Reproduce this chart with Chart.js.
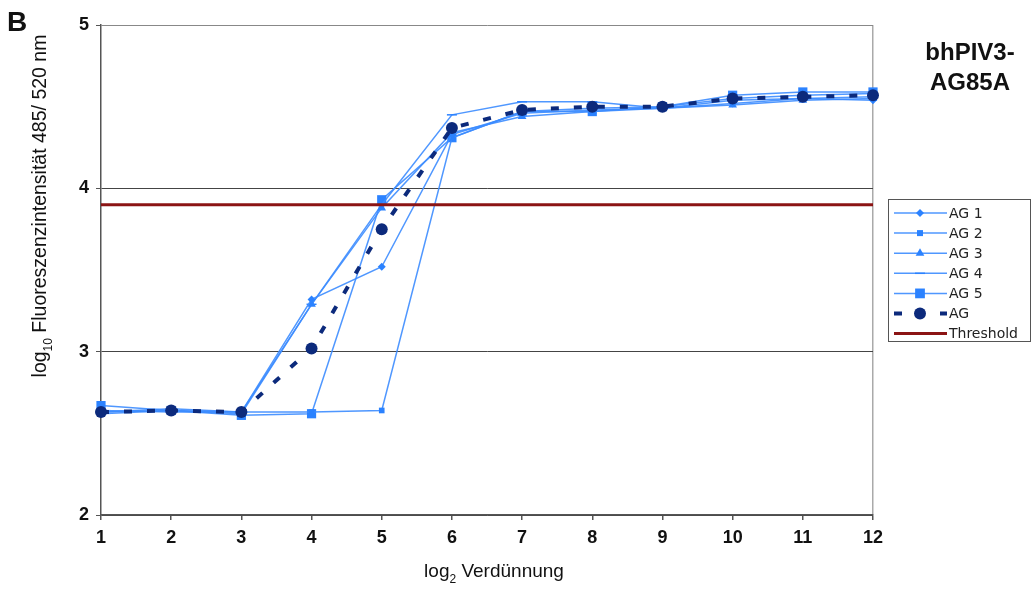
<!DOCTYPE html>
<html>
<head>
<meta charset="utf-8">
<script src="https://cdn.jsdelivr.net/npm/chart.js@4"></script>
<style>
  body { margin: 0; background: #fff; }
  #wrap { position: relative; width: 1032px; height: 589px; }
</style>
</head>
<body>
<div id="wrap"><canvas id="chart" width="1032" height="589"></canvas></div>
<script>
// dilution steps (log2) and log10 fluorescence readings
const dilutions = [1, 2, 3, 4, 5, 6, 7, 8, 9, 10, 11, 12];
const ag1 = [2.63, 2.64, 2.63, 3.32, 3.52, 4.33, 4.46, 4.48, 4.49, 4.52, 4.55, 4.54];
const ag2 = [2.64, 2.63, 2.63, 2.63, 2.64, 4.31, 4.47, 4.49, 4.50, 4.55, 4.57, 4.58];
const ag3 = [2.62, 2.64, 2.62, 3.29, 3.88, 4.34, 4.44, 4.47, 4.49, 4.51, 4.54, 4.55];
const ag4 = [2.63, 2.65, 2.63, 3.29, 3.90, 4.45, 4.53, 4.53, 4.49, 4.54, 4.55, 4.56];
const ag5 = [2.67, 2.64, 2.61, 2.62, 3.93, 4.31, 4.47, 4.47, 4.50, 4.57, 4.59, 4.59];
const agMean = [2.63, 2.64, 2.63, 3.02, 3.75, 4.37, 4.48, 4.50, 4.50, 4.55, 4.56, 4.57];
const threshold = 3.9;
const yTicks = [2, 3, 4, 5];

const lineBlue = 'rgba(60,140,255,0.9)';
const markBlue = '#2b82ff';
const navy = '#0c2a7c';
const darkRed = '#8b1414';

function pts(vals) {
  return vals.map((v, i) => ({ x: dilutions[i], y: v }));
}

function series(label, vals, style, radius) {
  return {
    label: label,
    data: pts(vals),
    borderColor: lineBlue,
    borderWidth: 1.5,
    pointStyle: style,
    pointRadius: radius,
    pointBackgroundColor: markBlue,
    pointBorderColor: markBlue,
    pointBorderWidth: style === 'line' ? 1.5 : 0,
    tension: 0,
    clip: 10,
    order: 2
  };
}

const datasets = [
  series('AG 1', ag1, 'rectRot', 4),
  series('AG 2', ag2, 'rect', 4),
  series('AG 3', ag3, 'triangle', 5),
  series('AG 4', ag4, 'line', 5),
  series('AG 5', ag5, 'rect', 6.5),
  {
    label: 'AG',
    data: pts(agMean),
    borderColor: navy,
    borderWidth: 4,
    borderDash: [8, 15],
    pointStyle: 'circle',
    pointRadius: 6,
    pointBorderWidth: 0,
    pointBackgroundColor: navy,
    pointBorderColor: navy,
    tension: 0,
    clip: 10,
    order: 0
  },
  {
    label: 'Threshold',
    data: [{ x: dilutions[0], y: threshold }, { x: dilutions[dilutions.length - 1], y: threshold }],
    borderColor: darkRed,
    borderWidth: 3,
    pointRadius: 0,
    order: 1
  }
];

// draw a legend marker by hand
function marker(ctx, style, r, x, y) {
  ctx.save();
  ctx.fillStyle = style === 'circle' ? navy : markBlue;
  ctx.strokeStyle = ctx.fillStyle;
  ctx.beginPath();
  if (style === 'rectRot') {
    ctx.moveTo(x, y - r); ctx.lineTo(x + r, y); ctx.lineTo(x, y + r); ctx.lineTo(x - r, y);
    ctx.closePath(); ctx.fill();
  } else if (style === 'rect') {
    ctx.fillRect(x - r * 0.75, y - r * 0.75, r * 1.5, r * 1.5);
  } else if (style === 'triangle') {
    ctx.moveTo(x, y - r); ctx.lineTo(x + r * 0.87, y + r * 0.5); ctx.lineTo(x - r * 0.87, y + r * 0.5);
    ctx.closePath(); ctx.fill();
  } else if (style === 'line') {
    ctx.lineWidth = 1.5;
    ctx.moveTo(x - r, y); ctx.lineTo(x + r, y); ctx.stroke();
  } else if (style === 'circle') {
    ctx.arc(x, y, r, 0, Math.PI * 2); ctx.fill();
  }
  ctx.restore();
}

// text with a subscript part: [normal, sub, rest]
function subText(ctx, parts, size, x, y, align) {
  const subSize = Math.round(size * 0.62);
  ctx.font = size + 'px "Liberation Sans", Arial, sans-serif';
  const w0 = ctx.measureText(parts[0]).width;
  const w2 = ctx.measureText(parts[2]).width;
  ctx.font = subSize + 'px "Liberation Sans", Arial, sans-serif';
  const w1 = ctx.measureText(parts[1]).width;
  const total = w0 + w1 + w2;
  let sx = align === 'center' ? x - total / 2 : x;
  ctx.textBaseline = 'alphabetic';
  ctx.textAlign = 'left';
  ctx.font = size + 'px "Liberation Sans", Arial, sans-serif';
  ctx.fillText(parts[0], sx, y);
  ctx.font = subSize + 'px "Liberation Sans", Arial, sans-serif';
  ctx.fillText(parts[1], sx + w0, y + size * 0.3);
  ctx.font = size + 'px "Liberation Sans", Arial, sans-serif';
  ctx.fillText(parts[2], sx + w0 + w1, y);
}

const extras = {
  id: 'extras',
  afterDraw(chart) {
    const ctx = chart.ctx;
    ctx.save();
    ctx.fillStyle = '#111';

    // panel letter
    ctx.font = 'bold 28px "Liberation Sans", Arial, sans-serif';
    ctx.textAlign = 'left';
    ctx.textBaseline = 'alphabetic';
    ctx.fillText('B', 7, 31);

    // title
    ctx.font = 'bold 24px "Liberation Sans", Arial, sans-serif';
    ctx.textAlign = 'center';
    ctx.fillText('bhPIV3-', 970, 60);
    ctx.fillText('AG85A', 970, 90);

    // axis titles
    subText(ctx, ['log', '2', ' Verdünnung'], 19, 494, 577, 'center');
    ctx.save();
    ctx.translate(46, 206);
    ctx.rotate(-Math.PI / 2);
    subText(ctx, ['log', '10', ' Fluoreszenzintensität 485/ 520 nm'], 19.5, 0, 0, 'center');
    ctx.restore();

    // legend
    const lx = 888.5, ly = 199.5;
    ctx.strokeStyle = '#555';
    ctx.lineWidth = 1;
    ctx.strokeRect(lx, ly, 142, 142);
    ctx.font = '14px "DejaVu Sans", Verdana, sans-serif';
    ctx.textAlign = 'left';
    ctx.textBaseline = 'middle';
    chart.data.datasets.forEach((ds, i) => {
      const y = 213 + i * 20.1;
      ctx.save();
      ctx.strokeStyle = ds.borderColor;
      ctx.lineWidth = ds.borderWidth;
      if (ds.borderDash) ctx.setLineDash(ds.borderDash);
      ctx.beginPath();
      ctx.moveTo(894, y);
      ctx.lineTo(947, y);
      ctx.stroke();
      ctx.restore();
      if (ds.pointRadius) marker(ctx, ds.pointStyle, ds.pointRadius, 920, y);
      ctx.fillStyle = '#222';
      ctx.fillText(ds.label, 949, y + 1);
    });
    ctx.restore();
  }
};

new Chart(document.getElementById('chart'), {
  type: 'line',
  data: { datasets: datasets },
  options: {
    responsive: false,
    animation: false,
    layout: { padding: { top: 25, right: 159, left: 0, bottom: 0 } },
    plugins: { legend: { display: false }, tooltip: { enabled: false } },
    scales: {
      x: {
        type: 'linear',
        min: 1,
        max: 12,
        afterFit: s => { s.height = 74; },
        ticks: {
          stepSize: 1,
          padding: 7,
          color: '#111',
          font: { family: '"Liberation Sans", Arial, sans-serif', size: 18, weight: 'bold' }
        },
        grid: {
          color: c => (c.tick && c.tick.value === 12 ? '#aaa' : 'rgba(0,0,0,0)'),
          tickColor: '#555',
          tickLength: 5,
          lineWidth: 1.5
        },
        border: { color: '#555', width: 1.5 }
      },
      y: {
        min: 2,
        max: 5,
        afterFit: s => { s.width = 101; },
        afterBuildTicks: s => { s.ticks = yTicks.map(v => ({ value: v })); },
        ticks: {
          padding: 7,
          color: '#111',
          font: { family: '"Liberation Sans", Arial, sans-serif', size: 18, weight: 'bold' }
        },
        grid: {
          color: c => (c.tick && c.tick.value === 5 ? '#888' : '#444'),
          tickColor: '#555',
          tickLength: 5,
          lineWidth: 1
        },
        border: { color: '#555', width: 1.5 }
      }
    }
  },
  plugins: [extras]
});
</script>
</body>
</html>
